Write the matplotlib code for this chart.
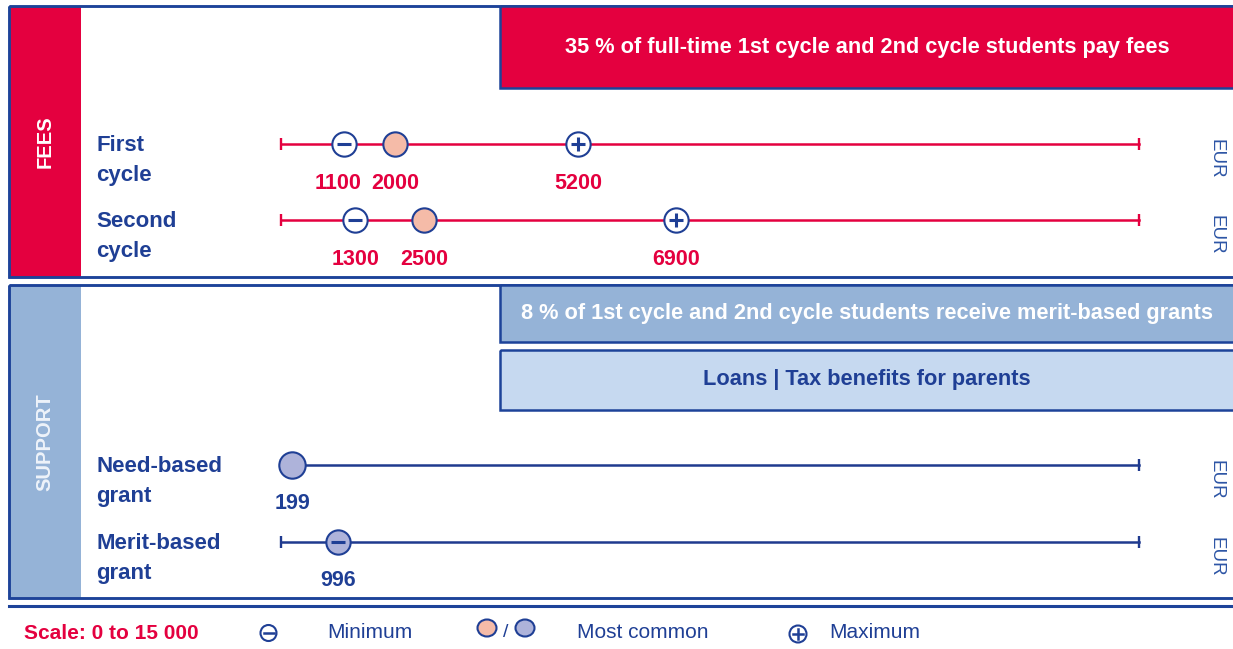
import matplotlib
matplotlib.use("Agg")
import matplotlib.pyplot as plt
from matplotlib.patches import Rectangle, Ellipse

# ---------------- data ----------------
fee_rows = ["First\ncycle", "Second\ncycle"]
fee_min = [1100, 1300]
fee_common = [2000, 2500]
fee_max = [5200, 6900]

support_rows = ["Need-based\ngrant", "Merit-based\ngrant"]
support_common = [199, 996]
support_is_min = [False, True]

scale_min, scale_max = 0, 15000
fees_header = "35 % of full-time 1st cycle and 2nd cycle students pay fees"
support_header1 = "8 % of 1st cycle and 2nd cycle students receive merit-based grants"
support_header2 = "Loans | Tax benefits for parents"
unit = "EUR"

# ---------------- style ----------------
RED = "#e4003f"
BLUE = "#1f3f95"
BORDER = "#1d4399"
SALMON = "#f5bba8"
LAVENDER = "#aeb3da"
SIDE_SUP = "#95b3d7"
HDR2 = "#c6d9f0"
EURC = "#2d55a5"
SANS = "Liberation Sans"

W, H = 1233, 649
fig = plt.figure(figsize=(W / 100, H / 100), dpi=100)
lay = fig.add_axes([0, 0, 1, 1])
lay.set_xlim(0, W)
lay.set_ylim(H, 0)
lay.axis("off")

def box(x0, y0, x1, y1, fc, ec=BORDER, lw=1.8, z=1):
    lay.add_patch(Rectangle((x0, y0), x1 - x0, y1 - y0, facecolor=fc, edgecolor="none", zorder=z))
    if ec:
        lay.add_patch(Rectangle((x0, y0), x1 - x0, y1 - y0, facecolor="none", edgecolor=ec, lw=lw, zorder=z + 0.5))

# Fees section
box(9, 6, 1245, 277, "white", z=1)
box(9, 6, 81, 277, RED, ec=None, z=1.2)
lay.add_patch(Rectangle((9, 6), 1236, 271, facecolor="none", edgecolor=BORDER, lw=1.8, zorder=2))
box(500, 6, 1245, 88, RED, z=2.2)
lay.text(867, 48, fees_header, color="white", fontsize=15.7, fontweight="bold", family=SANS,
         ha="center", va="center", zorder=5)
lay.text(45, 142, "FEES", color="white", fontsize=14.5, fontweight="bold", family=SANS,
         rotation=90, ha="center", va="center", zorder=5)

# Support section
box(9, 285, 1245, 598, "white", z=1)
box(9, 285, 81, 598, SIDE_SUP, ec=None, z=1.2)
lay.add_patch(Rectangle((9, 285), 1236, 313, facecolor="none", edgecolor=BORDER, lw=1.8, zorder=2))
box(500, 285, 1245, 342, SIDE_SUP, z=2.2)
box(500, 350, 1245, 410, HDR2, z=2.2)
lay.text(867, 314, support_header1, color="white", fontsize=15.7, fontweight="bold", family=SANS,
         ha="center", va="center", zorder=5)
lay.text(867, 380, support_header2, color=BLUE, fontsize=15.7, fontweight="bold", family=SANS,
         ha="center", va="center", zorder=5)
lay.text(45, 442, "SUPPORT", color="#eef3fa", fontsize=14.5, fontweight="bold", family=SANS,
         rotation=90, ha="center", va="center", zorder=5)

# bottom separator
lay.plot([9, 1245], [606, 606], color=BORDER, lw=2.2, zorder=3)

# ---------------- data axes (scale 0..15000) ----------------
X0, X1 = 281, 1139
dax = fig.add_axes([X0 / W, 0, (X1 - X0) / W, 1])
dax.set_xlim(scale_min, scale_max)
dax.set_ylim(H, 0)
dax.axis("off")
dax.patch.set_alpha(0)

fee_y = [144, 220]
sup_y = [465, 542]
MS, MEW = 17.5, 1.5

def scale_line(y, col):
    dax.plot([scale_min, scale_max], [y, y], color=col, lw=1.8, zorder=3, clip_on=False)
    dax.plot([scale_min, scale_max], [y, y], ls="none", marker="|", ms=9.0, mew=1.7,
             color=col, zorder=3, clip_on=False)

def marker(x, y, fc, sym=None, ms=MS):
    dax.plot([x], [y], marker="o", ms=ms, mfc=fc, mec=BLUE, mew=MEW, ls="none", zorder=4, clip_on=False)
    if sym:
        dax.plot([x], [y], marker=sym, ms=9.5, mew=2.2, color=BLUE, ls="none", zorder=5, clip_on=False)

def vlabel(x, y, col, dx=0):
    dax.annotate(f"{x}", (x, y), xytext=(dx, 0), textcoords="offset pixels",
                 color=col, fontsize=15.5, fontweight="bold", family=SANS,
                 ha="center", va="baseline", zorder=5, annotation_clip=False)

for i, y in enumerate(fee_y):
    scale_line(y, RED)
    marker(fee_min[i], y, "white", "_")
    marker(fee_common[i], y, SALMON)
    marker(fee_max[i], y, "white", "+")
    vlabel(fee_min[i], y + 45, RED, dx=-6 if i == 0 else 0)
    vlabel(fee_common[i], y + 45, RED)
    vlabel(fee_max[i], y + 45, RED)

for i, y in enumerate(sup_y):
    scale_line(y, "#1f3a8f")
    marker(support_common[i], y, LAVENDER, "_" if support_is_min[i] else None,
           ms=MS if support_is_min[i] else MS + 1.5)
    vlabel(support_common[i], y + 44, BLUE)

# row labels
for lab, y in zip(fee_rows + support_rows, fee_y + sup_y):
    l1, l2 = lab.split("\n")
    lay.text(96, y + 7, l1, color=BLUE, fontsize=16, fontweight="bold", family=SANS,
             ha="left", va="baseline", zorder=5)
    lay.text(96, y + 37, l2, color=BLUE, fontsize=16, fontweight="bold", family=SANS,
             ha="left", va="baseline", zorder=5)

for y in fee_y + sup_y:
    lay.text(1216, y + 15, unit, color=EURC, fontsize=13.5, family=SANS,
             rotation=-90, ha="center", va="center", zorder=5)

# ---------------- legend ----------------
lay.text(24, 639, "Scale: 0 to 15 000", color=RED, fontsize=15, fontweight="bold", family=SANS,
         ha="left", va="baseline")

def leg_circle(cx, cy, fc, sym=None, w=18, h=17):
    lay.add_patch(Ellipse((cx, cy), w, h, facecolor=fc, edgecolor=BLUE, lw=1.5, zorder=5))
    if sym == "-":
        lay.plot([cx - 5, cx + 5], [cy, cy], color=BLUE, lw=1.8, zorder=6)
    elif sym == "+":
        lay.plot([cx - 5, cx + 5], [cy, cy], color=BLUE, lw=1.8, zorder=6)
        lay.plot([cx, cx], [cy - 5, cy + 5], color=BLUE, lw=1.8, zorder=6)

leg_circle(268.5, 633, "white", "-", w=16, h=16)
lay.text(327, 638, "Minimum", color=BLUE, fontsize=15, family=SANS, ha="left", va="baseline")
leg_circle(487, 628, SALMON, w=19, h=17)
lay.text(506, 637, "/", color=BLUE, fontsize=14, family=SANS, ha="center", va="baseline")
leg_circle(525, 628, LAVENDER, w=19, h=17)
lay.text(577, 638, "Most common", color=BLUE, fontsize=15, family=SANS, ha="left", va="baseline")
leg_circle(798, 634, "white", "+", w=17, h=17)
lay.text(829, 638, "Maximum", color=BLUE, fontsize=15, family=SANS, ha="left", va="baseline")

fig.savefig("out.png", dpi=100)
